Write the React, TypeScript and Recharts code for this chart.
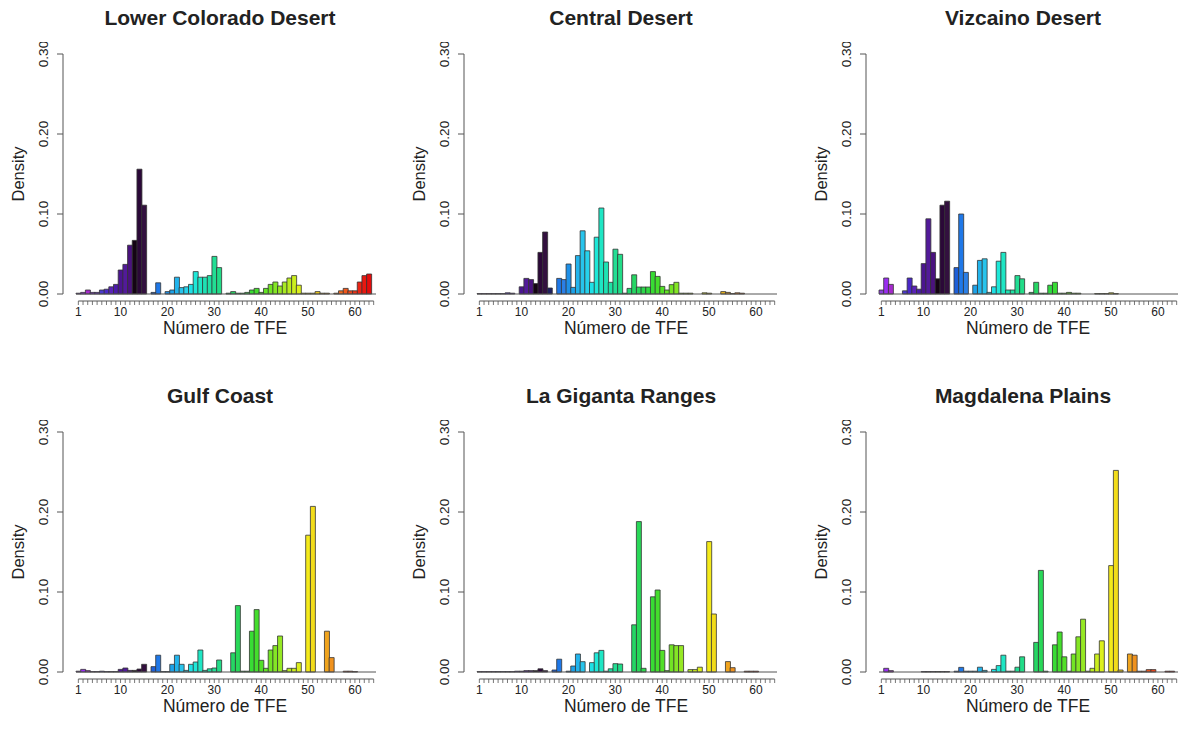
import React from 'react'
import { BarChart, Bar, XAxis, YAxis, Cell } from 'recharts'

// TFE categories 1..64 and the labelled ticks
const tfe = [
  1, 2, 3, 4, 5, 6, 7, 8, 9, 10, 11, 12, 13, 14, 15, 16,
  17, 18, 19, 20, 21, 22, 23, 24, 25, 26, 27, 28, 29, 30, 31, 32,
  33, 34, 35, 36, 37, 38, 39, 40, 41, 42, 43, 44, 45, 46, 47, 48,
  49, 50, 51, 52, 53, 54, 55, 56, 57, 58, 59, 60, 61, 62, 63, 64,
]
const tickLabels = [1, 10, 20, 30, 40, 50, 60]
const yTicks = [0, 0.1, 0.2, 0.3]

const lowerColorado = [
  0.001, 0.002, 0.005, 0.002, 0.002, 0.005, 0.006, 0.009, 0.012, 0.03,
  0.037, 0.061, 0.067, 0.156, 0.111, 0, 0.002, 0.014, 0, 0.003,
  0.005, 0.021, 0.008, 0.009, 0.012, 0.028, 0.021, 0.021, 0.023, 0.047,
  0.033, 0, 0.001, 0.003, 0.001, 0.001, 0.002, 0.005, 0.007, 0.002,
  0.007, 0.012, 0.015, 0.01, 0.015, 0.02, 0.023, 0.011, 0.001, 0.001,
  0.001, 0.003, 0.001, 0.001, 0, 0.001, 0.004, 0.007, 0.004, 0.004,
  0.015, 0.023, 0.025, 0,
]
const centralDesert = [
  0.0005, 0.0005, 0.0005, 0.0005, 0.0005, 0.0005, 0.0015, 0.001, 0, 0.009,
  0.0195, 0.018, 0.013, 0.052, 0.0775, 0.0075, 0, 0.0195, 0.018, 0.0375,
  0.0083, 0.048, 0.079, 0.054, 0.0146, 0.071, 0.1075, 0.04, 0.0146, 0.056,
  0.0496, 0.001, 0.007, 0.024, 0.0087, 0.0087, 0.0087, 0.028, 0.022, 0.0095,
  0.005, 0.0117, 0.0146, 0.001, 0.001, 0.001, 0, 0, 0.0015, 0.001,
  0, 0, 0.003, 0.002, 0.0005, 0.0015, 0.001, 0, 0, 0,
  0, 0, 0, 0,
]
const vizcaino = [
  0.005, 0.02, 0.012, 0, 0, 0.004, 0.02, 0.01, 0.006, 0.038,
  0.094, 0.052, 0.019, 0.111, 0.116, 0, 0.033, 0.1, 0.027, 0,
  0.011, 0.042, 0.044, 0.002, 0.009, 0.041, 0.052, 0.005, 0.005, 0.023,
  0.019, 0, 0.002, 0.0146, 0.001, 0.001, 0.011, 0.0146, 0.001, 0.001,
  0.002, 0.001, 0.001, 0, 0, 0, 0.0005, 0.0005, 0.0005, 0.0015,
  0.0005, 0, 0, 0, 0, 0, 0, 0, 0, 0,
  0, 0, 0, 0,
]
const gulfCoast = [
  0.001, 0.0033, 0.0017, 0.0005, 0.0005, 0.001, 0.0005, 0.0005, 0.0005, 0.0033,
  0.005, 0.002, 0.002, 0.0037, 0.0096, 0, 0.0067, 0.021, 0.0005, 0.0005,
  0.0096, 0.021, 0.0096, 0.002, 0.0096, 0.0125, 0.0275, 0.002, 0.004, 0.005,
  0.015, 0, 0, 0.024, 0.083, 0.001, 0.001, 0.051, 0.078, 0.0146,
  0.0046, 0.0275, 0.033, 0.045, 0.0017, 0.0046, 0.0046, 0.0117, 0, 0.171,
  0.207, 0, 0, 0.051, 0.018, 0, 0, 0.001, 0.001, 0.0005,
  0, 0, 0, 0,
]
const laGiganta = [
  0.0005, 0.0005, 0.0005, 0.0005, 0.0005, 0.0005, 0.0005, 0.0005, 0.001, 0.001,
  0.0017, 0.0017, 0.0017, 0.004, 0.0017, 0, 0.0025, 0.016, 0, 0.001,
  0.0075, 0.0225, 0.0129, 0, 0.0117, 0.024, 0.027, 0.001, 0.004, 0.0104,
  0.01, 0, 0, 0.059, 0.188, 0.0046, 0, 0.094, 0.1025, 0.027,
  0.0017, 0.034, 0.033, 0.033, 0, 0.003, 0.003, 0.006, 0, 0.163,
  0.0725, 0, 0, 0.013, 0.0054, 0, 0, 0.001, 0.001, 0.001,
  0, 0, 0, 0,
]
const magdalena = [
  0, 0.0046, 0.0017, 0, 0, 0, 0, 0, 0, 0.0005,
  0.0005, 0.0005, 0.0005, 0.0005, 0.0005, 0, 0.001, 0.0058, 0.001, 0.001,
  0.001, 0.006, 0.002, 0, 0.0033, 0.008, 0.021, 0.001, 0.001, 0.006,
  0.019, 0, 0, 0.037, 0.127, 0.001, 0, 0.034, 0.05, 0.019,
  0.001, 0.0225, 0.044, 0.066, 0.001, 0.0046, 0.0225, 0.039, 0, 0.133,
  0.252, 0.0025, 0, 0.0225, 0.021, 0.001, 0.001, 0.003, 0.003, 0,
  0, 0.001, 0.001, 0,
]

// one colour per TFE category
const palette = [
  '#8b3fd9', '#9a2ef0', '#a52acc', '#7a2ad0', '#6a2bd0', '#4b3acb', '#4a28c8', '#5a22b8',
  '#4a1aa8', '#4b1590', '#521a9a', '#4a127e', '#140414', '#2b0838', '#33103f', '#202060',
  '#1e5fd8', '#1f78e8', '#2b7fe6', '#1e90e8', '#1ea2e8', '#22b4ec', '#28c4ec', '#26d2ec',
  '#1fe0e6', '#1ee8d8', '#1ee6c4', '#1ee2b4', '#20e0a4', '#22de94', '#22dc88', '#22da7c',
  '#24d870', '#26d664', '#28d858', '#2cd84c', '#30da40', '#38dc34', '#44de2c', '#52e028',
  '#62e224', '#72e424', '#84e624', '#96e824', '#a8ea22', '#baec20', '#cbee1e', '#dcf01c',
  '#ecf01a', '#f4ea1a', '#f2dc1a', '#f0cc1a', '#f0b81c', '#f0a41e', '#f0921e', '#f0801e',
  '#f06c1e', '#f0581c', '#ee461a', '#ec3418', '#ea2414', '#e81810', '#e40c0c', '#d00000',
]

const panels = [
  { title: 'Lower Colorado Desert', values: lowerColorado, col: 0, row: 0 },
  { title: 'Central Desert', values: centralDesert, col: 1, row: 0 },
  { title: 'Vizcaino Desert', values: vizcaino, col: 2, row: 0 },
  { title: 'Gulf Coast', values: gulfCoast, col: 0, row: 1 },
  { title: 'La Giganta Ranges', values: laGiganta, col: 1, row: 1 },
  { title: 'Magdalena Plains', values: magdalena, col: 2, row: 1 },
]

const FONT = '"Liberation Sans", Arial, Helvetica, sans-serif'
const AXIS = '#555'
const COL_X = [63, 464, 866]
const ROW_Y = [54, 432]
const PLOT_H = 240
const Y_W = 50
const M_TOP = 12
const X_H = 36
const PAD_L = 13
const PAD_R = 2
const M_R = 2
const BAR_SPAN = 300
const BAND = BAR_SPAN / 64
const CHART_W = Y_W + PAD_L + BAR_SPAN + PAD_R + M_R
const CHART_H = M_TOP + PLOT_H + X_H
const BASE_Y = M_TOP + PLOT_H
const AX_GAP = 7

function XTick(props: any) {
  const { x, payload, index } = props
  const showLabel = tickLabels.includes(payload.value)
  const ay = BASE_Y + AX_GAP
  return (
    <g>
      {index === 0 && (
        <>
          <line x1={x - BAND / 2} y1={BASE_Y} x2={x + 63.5 * BAND} y2={BASE_Y} stroke={AXIS} strokeWidth={1} />
          <line x1={x} y1={ay} x2={x + 63 * BAND} y2={ay} stroke={AXIS} strokeWidth={1} />
        </>
      )}
      <line x1={x} y1={ay} x2={x} y2={ay + 4} stroke={AXIS} strokeWidth={0.8} />
      {showLabel && (
        <text x={x} y={ay + 15} textAnchor="middle" fontSize={12} fill="#222" fontFamily={FONT}>
          {payload.value}
        </text>
      )}
    </g>
  )
}

function YTick(props: any) {
  const { y, payload } = props
  return (
    <g>
      <line x1={Y_W - 6} y1={y} x2={Y_W} y2={y} stroke={AXIS} strokeWidth={1} />
      <text
        transform={`translate(${Y_W - 15}, ${y}) rotate(-90)`}
        textAnchor="middle"
        fontSize={13.5}
        fill="#222"
        fontFamily={FONT}
      >
        {payload.value.toFixed(2)}
      </text>
    </g>
  )
}

function Panel({ values, col, row }: { values: number[]; col: number; row: number }) {
  const data = tfe.map((t, i) => ({ tfe: t, density: values[i] }))
  return (
    <div style={{ position: 'absolute', left: COL_X[col] - Y_W, top: ROW_Y[row] - M_TOP }}>
      <BarChart
        width={CHART_W}
        height={CHART_H}
        data={data}
        margin={{ top: M_TOP, right: M_R, bottom: 0, left: 0 }}
        barCategoryGap={0}
        barGap={0}
      >
        <XAxis
          dataKey="tfe"
          interval={0}
          height={X_H}
          padding={{ left: PAD_L, right: PAD_R }}
          axisLine={false}
          tickLine={false}
          tickSize={0}
          tickMargin={0}
          tick={(p: any) => <XTick {...p} />}
        />
        <YAxis
          width={Y_W}
          domain={[0, 0.3]}
          ticks={yTicks}
          interval={0}
          axisLine={{ stroke: AXIS, strokeWidth: 1 }}
          tickLine={false}
          tickSize={0}
          tickMargin={0}
          tick={(p: any) => <YTick {...p} />}
        />
        <Bar dataKey="density" isAnimationActive={false} stroke="#333" strokeWidth={0.8}>
          {data.map((d, i) => (
            <Cell key={d.tfe} fill={palette[i]} />
          ))}
        </Bar>
      </BarChart>
    </div>
  )
}

export default function App() {
  return (
    <div style={{ position: 'absolute', left: 0, top: 0, width: 1178, height: 734, background: '#fff' }}>
      {panels.map((p) => (
        <Panel key={p.title} values={p.values} col={p.col} row={p.row} />
      ))}
      <svg width={1178} height={734} style={{ position: 'absolute', left: 0, top: 0, pointerEvents: 'none' }}>
        {panels.map((p) => {
          const x0 = COL_X[p.col]
          const top = ROW_Y[p.row]
          return (
            <g key={p.title} fontFamily={FONT} fill="#222">
              <text x={x0 + 157} y={top - 29} textAnchor="middle" fontSize={21} fontWeight="bold">
                {p.title}
              </text>
              <text x={x0 + 162} y={top + 280} textAnchor="middle" fontSize={17.5}>
                Número de TFE
              </text>
              <text
                transform={`translate(${x0 - 39}, ${top + PLOT_H / 2}) rotate(-90)`}
                textAnchor="middle"
                fontSize={16.5}
              >
                Density
              </text>
            </g>
          )
        })}
      </svg>
    </div>
  )
}
